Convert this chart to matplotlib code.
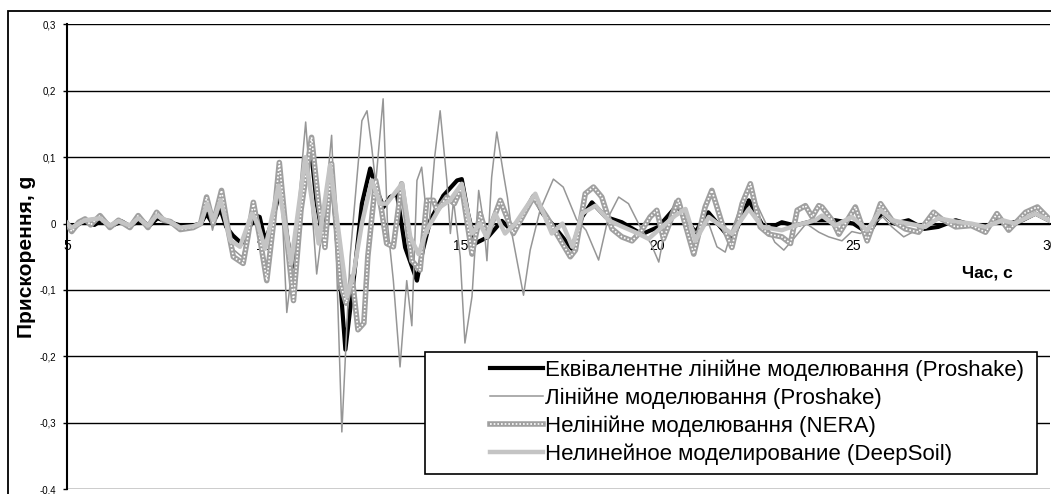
import matplotlib
matplotlib.use("Agg")
import matplotlib.pyplot as plt
from matplotlib.patches import Rectangle
from matplotlib.legend_handler import HandlerTuple

plt.rcParams['font.family'] = ['Liberation Sans', 'DejaVu Sans']

# Еквівалентне лінійне моделювання (Proshake)
t_eq = [5.0, 5.15, 5.4, 5.7, 5.9, 6.1, 6.4, 6.6, 6.85, 7.1, 7.3, 7.6, 7.9, 8.2, 8.4, 8.55, 8.7, 8.9,
        9.05, 9.22, 9.44, 9.6, 9.8, 9.9, 10.04, 10.2, 10.42, 10.55, 10.72, 10.9, 11.2, 11.35, 11.52,
        11.73, 11.9, 12.08, 12.3, 12.5, 12.71, 12.88, 13.05, 13.22, 13.39, 13.6, 13.9, 14.05, 14.24,
        14.57, 14.92, 15.04, 15.2, 15.38, 15.71, 16.06, 16.3, 16.57, 16.87, 17.1, 17.33, 17.84, 18.1,
        18.35, 18.7, 19.11, 19.62, 20.04, 20.51, 20.98, 21.31, 21.91, 22.34, 22.76, 23.18, 23.52,
        24.03, 24.54, 25.0, 25.39, 25.73, 26.05, 26.4, 26.8, 27.16, 27.6, 28.0, 28.36, 28.65, 28.95,
        29.3, 29.63, 29.96, 30.0]
a_eq = [0.0, -0.008, 0.004, -0.002, 0.006, -0.004, 0.003, -0.004, 0.005, -0.003, 0.008, 0.002, -0.003,
        -0.003, 0.0, 0.015, 0.0, 0.022, -0.005, -0.018, -0.03, -0.01, 0.012, 0.01, -0.026, 0.0, 0.05,
        0.0, -0.066, 0.02, 0.113, 0.03, -0.025, 0.075, -0.05, -0.19, -0.08, 0.03, 0.083, 0.05, 0.025,
        0.04, 0.045, -0.036, -0.086, -0.04, 0.005, 0.042, 0.065, 0.067, 0.015, -0.03, -0.02, 0.004,
        -0.01, 0.01, 0.042, 0.015, 0.0, -0.038, 0.01, 0.032, 0.01, 0.002, -0.016, -0.005, 0.027,
        -0.013, 0.017, -0.026, 0.035, -0.01, 0.002, -0.003, 0.005, 0.005, 0.0, -0.015, 0.017, 0.0,
        0.005, -0.008, -0.005, 0.005, -0.002, -0.006, 0.006, 0.0, 0.005, 0.015, 0.005, 0.004]

# Лінійне моделювання (Proshake)
t_lin = [5.0, 5.12, 5.46, 5.84, 6.09, 6.31, 6.6, 6.81, 7.06, 7.28, 7.63, 7.88, 8.21, 8.4, 8.57, 8.7,
         8.93, 9.1, 9.25, 9.45, 9.6, 9.76, 9.9, 10.06, 10.25, 10.42, 10.59, 10.8, 11.07, 11.35, 11.55,
         11.73, 11.85, 11.99, 12.2, 12.5, 12.63, 12.75, 12.85, 13.04, 13.15, 13.3, 13.47, 13.64, 13.77,
         13.9, 14.02, 14.19, 14.35, 14.49, 14.66, 14.75, 14.83, 15.0, 15.12, 15.3, 15.47, 15.6, 15.68,
         15.8, 15.93, 16.1, 16.2, 16.33, 16.61, 16.78, 17.03, 17.37, 17.62, 17.96, 18.2, 18.52, 18.77,
         19.03, 19.28, 19.45, 19.62, 19.85, 20.05, 20.22, 20.47, 20.73, 20.98, 21.32, 21.53, 21.74,
         21.91, 22.15, 22.38, 22.68, 23.0, 23.23, 23.52, 23.8, 24.12, 24.37, 24.71, 24.96, 25.18, 25.5,
         25.75, 25.98, 26.28, 26.6, 26.9, 27.2, 27.6, 28.0, 28.4, 28.7, 29.0, 29.4, 29.7, 30.0]
a_lin = [0.0, -0.01, 0.006, 0.01, -0.005, 0.005, -0.005, 0.01, -0.004, 0.013, 0.002, -0.007, -0.004,
         0.0, 0.035, -0.01, 0.045, -0.02, -0.04, -0.05, -0.02, 0.03, 0.0, -0.085, 0.0, 0.085, -0.134,
         -0.03, 0.153, -0.076, 0.02, 0.133, -0.05, -0.314, -0.05, 0.155, 0.17, 0.115, 0.06, 0.188, 0.0,
         -0.086, -0.216, -0.086, -0.154, 0.065, 0.085, -0.015, 0.1, 0.17, 0.065, -0.015, 0.035, -0.05,
         -0.18, -0.11, 0.05, 0.0, -0.056, 0.07, 0.138, 0.075, 0.04, -0.02, -0.108, -0.04, 0.02, 0.067,
         0.055, 0.006, -0.01, -0.055, 0.01, 0.04, 0.03, 0.01, -0.01, -0.03, -0.058, -0.005, 0.035,
         0.017, -0.013, 0.0, -0.035, -0.043, -0.01, 0.03, 0.05, 0.012, -0.028, -0.04, -0.02, 0.0,
         -0.013, -0.02, -0.026, -0.012, -0.015, 0.0, 0.01, -0.005, -0.02, -0.01, 0.005, 0.005, -0.003,
         -0.003, -0.008, 0.008, -0.003, 0.008, 0.015, 0.005]

# Нелінійне моделювання (NERA)
t_nera = [5.0, 5.12, 5.3, 5.46, 5.6, 5.84, 6.09, 6.31, 6.6, 6.81, 7.06, 7.28, 7.45, 7.63, 7.88, 8.21,
          8.4, 8.55, 8.72, 8.93, 9.1, 9.23, 9.48, 9.6, 9.74, 9.9, 10.08, 10.25, 10.4, 10.55, 10.76,
          10.95, 11.22, 11.4, 11.56, 11.73, 11.95, 12.1, 12.25, 12.4, 12.55, 12.65, 12.85, 13.0, 13.13,
          13.3, 13.51, 13.77, 13.98, 14.15, 14.32, 14.41, 14.66, 14.85, 15.04, 15.3, 15.51, 15.68,
          16.02, 16.35, 16.86, 17.2, 17.8, 17.93, 18.18, 18.39, 18.6, 18.86, 19.11, 19.37, 19.62,
          19.83, 20.0, 20.17, 20.55, 20.94, 21.23, 21.4, 21.66, 21.91, 22.17, 22.38, 22.63, 22.85,
          23.18, 23.4, 23.57, 23.78, 23.95, 24.12, 24.2, 24.46, 24.63, 25.05, 25.35, 25.69, 25.98,
          26.32, 26.66, 27.04, 27.24, 27.6, 28.0, 28.36, 28.65, 28.95, 29.38, 29.68, 29.96, 30.0]
a_nera = [0.0, -0.012, 0.002, 0.007, -0.002, 0.012, -0.006, 0.005, -0.006, 0.012, -0.006, 0.017, 0.005,
          0.003, -0.009, -0.006, 0.0, 0.04, 0.0, 0.05, -0.01, -0.05, -0.06, -0.02, 0.032, -0.02, -0.086,
          0.0, 0.092, 0.0, -0.116, 0.02, 0.13, 0.03, -0.036, 0.09, -0.09, -0.12, -0.08, -0.16, -0.15,
          -0.05, 0.065, 0.02, -0.03, -0.035, 0.06, -0.056, -0.07, 0.035, 0.035, 0.02, 0.04, 0.03, 0.055,
          -0.046, 0.015, -0.02, 0.035, -0.015, 0.04, 0.01, -0.05, -0.04, 0.045, 0.055, 0.04, -0.008,
          -0.02, -0.026, -0.01, 0.01, 0.02, -0.023, 0.035, -0.046, 0.025, 0.05, 0.0, -0.036, 0.03, 0.06,
          -0.005, -0.016, -0.02, -0.03, 0.02, 0.027, 0.01, 0.027, 0.025, 0.005, -0.016, 0.025, -0.026,
          0.03, 0.005, -0.008, -0.013, 0.017, 0.007, -0.005, -0.003, -0.013, 0.015, -0.01, 0.017, 0.025,
          0.008, 0.006]

# Нелинейное моделирование (DeepSoil)
t_ds = [5.0, 5.12, 5.46, 5.84, 6.09, 6.31, 6.6, 6.81, 7.06, 7.28, 7.63, 7.88, 8.21, 8.4, 8.57, 8.72,
        8.91, 9.15, 9.4, 9.7, 9.85, 10.04, 10.38, 10.7, 11.06, 11.4, 11.69, 12.12, 12.29, 12.5, 12.75,
        12.96, 13.13, 13.52, 13.73, 13.94, 14.15, 14.49, 14.74, 15.04, 15.3, 15.5, 15.67, 15.89, 16.14,
        16.4, 16.91, 17.33, 17.6, 17.85, 18.1, 18.44, 18.77, 19.1, 19.45, 19.79, 20.13, 20.47, 20.73,
        20.98, 21.32, 21.66, 21.91, 22.34, 22.68, 23.18, 23.52, 24.03, 24.2, 24.54, 24.96, 25.35,
        25.69, 25.98, 26.4, 26.83, 27.16, 27.6, 28.0, 28.36, 28.8, 29.1, 29.63, 29.96, 30.0]
a_ds = [0.0, -0.006, 0.005, 0.008, -0.003, 0.004, -0.003, 0.008, -0.003, 0.012, 0.002, -0.006, -0.004,
        0.0, 0.03, 0.005, 0.035, -0.025, -0.035, 0.015, 0.0, -0.038, 0.057, -0.06, 0.1, -0.03, 0.088,
        -0.11, -0.075, 0.0, 0.065, 0.03, 0.03, 0.06, -0.02, -0.046, -0.01, 0.025, 0.035, 0.06, -0.015,
        0.0, -0.02, 0.015, -0.015, 0.0, 0.045, -0.015, 0.0, -0.035, 0.015, 0.027, 0.005, -0.004,
        -0.013, -0.023, -0.005, 0.012, 0.022, -0.026, 0.01, -0.005, -0.015, 0.022, -0.005, -0.01,
        -0.003, 0.005, 0.012, -0.003, 0.01, -0.01, 0.02, 0.005, 0.0, -0.005, 0.008, 0.003, 0.0,
        -0.005, 0.005, 0.0, 0.015, 0.005, 0.004]

labels = ['Еквівалентне лінійне моделювання (Proshake)',
          'Лінійне моделювання (Proshake)',
          'Нелінійне моделювання (NERA)',
          'Нелинейное моделирование (DeepSoil)']
y_ticks = [-0.4, -0.3, -0.2, -0.1, 0.0, 0.1, 0.2, 0.3]
y_tick_labels = ['-0,4', '-0,3', '-0,2', '-0,1', '0', '0,1', '0,2', '0,3']
x_ticks = [5, 10, 15, 20, 25, 30]

W, H = 1051, 494
fig = plt.figure(figsize=(W / 100, H / 100), dpi=100)
ax = fig.add_axes([67 / W, 1 - 489 / H, (1050 - 67) / W, (489 - 24.5) / H])

l_eq, = ax.plot(t_eq, a_eq, color='black', lw=3.0, solid_joinstyle='round', zorder=3)
l_lin, = ax.plot(t_lin, a_lin, color='#969696', lw=1.1, zorder=4)
l_nera, = ax.plot(t_nera, a_nera, color='#a0a0a0', lw=4.0, zorder=5)
l_nera2, = ax.plot(t_nera, a_nera, color='white', lw=1.2, dashes=(1.0, 1.2), zorder=5.1)
l_ds, = ax.plot(t_ds, a_ds, color='#c4c4c4', lw=3.2, solid_joinstyle='round', zorder=6)

ax.set_xlim(5, 30)
ax.set_ylim(-0.4, 0.3)
ax.set_yticks(y_ticks)
ax.set_yticklabels(y_tick_labels, fontsize=7)
ax.set_xticks(x_ticks)
ax.set_xticklabels([str(x) for x in x_ticks], fontsize=7)
ax.tick_params(axis='x', length=0, pad=11)
ax.tick_params(axis='y', length=3, width=1, pad=5, direction='out')
ax.yaxis.grid(True, color='black', lw=1.0)
ax.set_axisbelow(True)

ax.spines['top'].set_visible(False)
ax.spines['right'].set_visible(False)
ax.spines['left'].set_linewidth(1.5)
ax.spines['bottom'].set_position(('data', 0))
ax.spines['bottom'].set_linewidth(1.5)

ax.text(28.41, -0.074, 'Час, с', fontsize=12.5, fontweight='bold', ha='center', va='center')
fig.text(27 / W, 1 - 257 / H, 'Прискорення, g', fontsize=15, fontweight='bold',
         rotation=90, ha='center', va='center')

# chart area border
fig.add_artist(Rectangle((8 / W, -0.05), 1.1, 1.05 - 11 / H, transform=fig.transFigure,
                         fill=False, edgecolor='black', lw=1.3, zorder=1))

# legend box
fig.add_artist(Rectangle((425 / W, 1 - 474 / H), (1037 - 425) / W, (474 - 352) / H,
                         transform=fig.transFigure, facecolor='white', edgecolor='black',
                         lw=1.2, zorder=5))
leg = fig.legend([l_eq, l_lin, (l_nera, l_nera2), l_ds], labels,
                 handler_map={tuple: HandlerTuple(ndivide=1, pad=0)},
                 loc='upper left', bbox_to_anchor=(490 / W, 1 - 359 / H), frameon=False,
                 fontsize=16, handlelength=2.39, handletextpad=0.09, labelspacing=0.3,
                 borderpad=0, borderaxespad=0)
leg.set_zorder(6)

fig.savefig('out.png', dpi=100)
